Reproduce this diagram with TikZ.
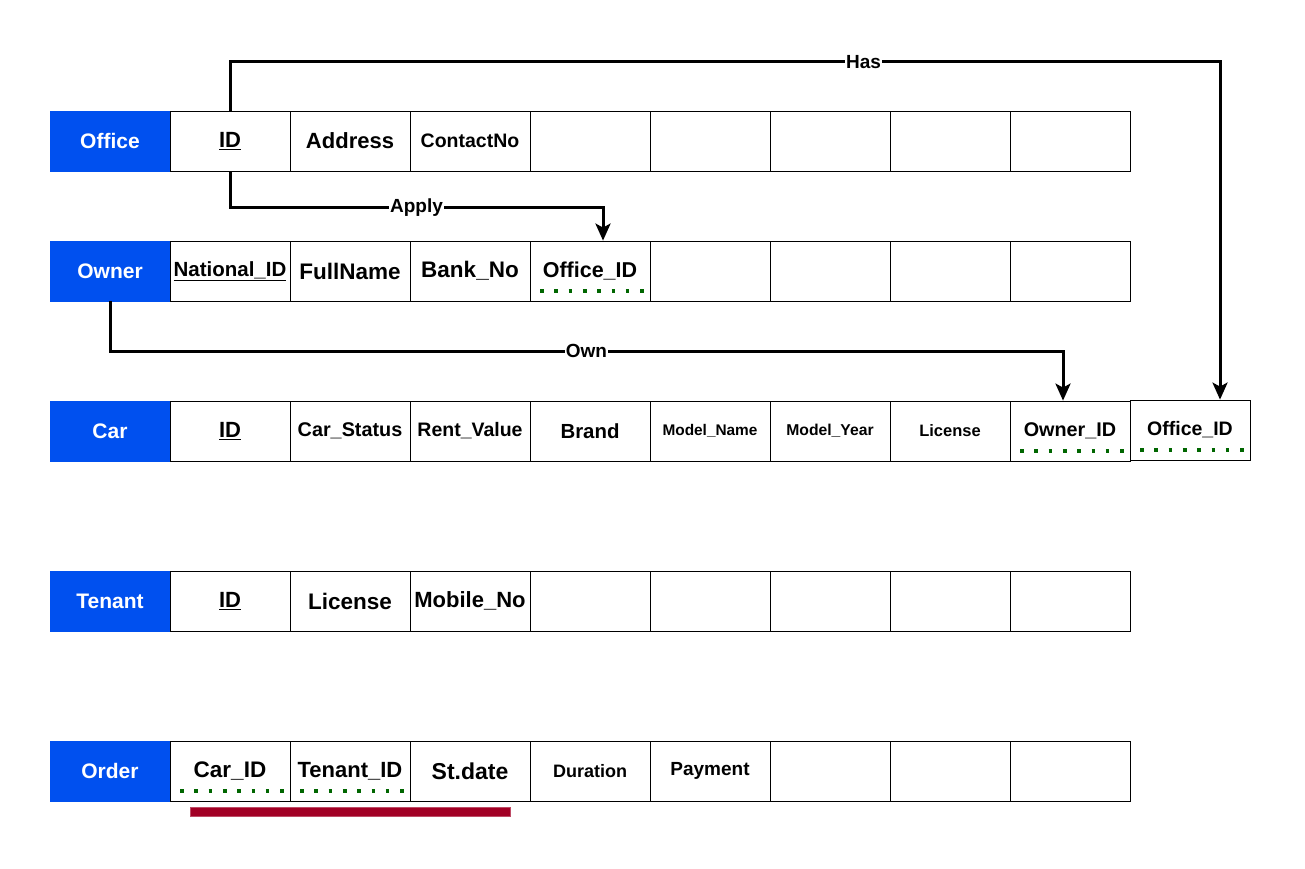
\documentclass[tikz,border=0pt]{standalone}
\usepackage{fontspec}
\setmainfont{Liberation Sans}
\usetikzlibrary{arrows.meta,calc}
\definecolor{hdrblue}{HTML}{0050EF}
\definecolor{fkgreen}{HTML}{006600}
\definecolor{crimson}{HTML}{A20025}
\newcommand\sz[1]{\fontsize{#1}{#1}\selectfont}
\tikzset{
  hdrbox/.style={draw=hdrblue, fill=hdrblue, text=white, minimum width=120pt,
                 minimum height=60pt, inner sep=0pt, font=\bfseries\sz{21}},
  cellbox/.style={draw=black, line width=0.8pt, fill=white, minimum width=120pt,
                  minimum height=60pt, inner sep=0pt, font=\bfseries\sz{20}},
  fkcell/.style={cellbox, path picture={
      \draw[fkgreen, line width=3.6pt, dash pattern=on 3.6pt off 10.7pt]
        ([xshift=10pt,yshift=10pt]path picture bounding box.south west) --
        ([xshift=-6pt,yshift=10pt]path picture bounding box.south east);}},
  relarr/.style={-{Stealth[length=17pt, width=15pt, inset=4pt]}, line width=3pt},
  rellabel/.style={fill=white, inner sep=1pt, font=\bfseries\sz{19}},
  keybar/.style={draw=crimson!70!white, fill=crimson, minimum width=320pt,
                 minimum height=9pt, inner sep=0pt}}

\begin{document}
\begin{tikzpicture}[x=1pt, y=-1pt]
    \useasboundingbox (0,0) rectangle (1305,869);
    % the tables
    \node[hdrbox] (office) at (110,141) {Office};
    \foreach \st/\lab [count=\i] in {cellbox/{\sz{22}\underline{ID}}, cellbox/{\sz{22}Address},
        cellbox/{\sz{19.5}ContactNo}, cellbox/{}, cellbox/{}, cellbox/{}, cellbox/{}, cellbox/{}}
      \node[\st] (office\i) at (110+120*\i,141) {\lab};
    \node[hdrbox] (owner) at (110,271) {Owner};
    \foreach \st/\lab [count=\i] in {cellbox/{\sz{20.5}\underline{National\_ID}}, cellbox/{\sz{22.5}FullName},
        cellbox/{\sz{22.5}Bank\_No}, fkcell/{\sz{21.5}Office\_ID}, cellbox/{}, cellbox/{}, cellbox/{}, cellbox/{}}
      \node[\st] (owner\i) at (110+120*\i,271) {\lab};
    \node[hdrbox] (car) at (110,431) {Car};
    \foreach \st/\lab [count=\i] in {cellbox/{\sz{22}\underline{ID}}, cellbox/{\sz{19.8}Car\_Status},
        cellbox/{\sz{19.5}Rent\_Value}, cellbox/{\sz{20.4}Brand}, cellbox/{\sz{15.4}Model\_Name},
        cellbox/{\sz{15.7}Model\_Year}, cellbox/{\sz{16.5}License}, fkcell/{\sz{19.8}Owner\_ID}}
      \node[\st] (car\i) at (110+120*\i,431) {\lab};
    \node[fkcell] (carx) at (1190,430) {\sz{19.5}Office\_ID};
    \node[hdrbox] (tenant) at (110,601) {Tenant};
    \foreach \st/\lab [count=\i] in {cellbox/{\sz{22}\underline{ID}}, cellbox/{\sz{22.5}License},
        cellbox/{\sz{22}Mobile\_No}, cellbox/{}, cellbox/{}, cellbox/{}, cellbox/{}, cellbox/{}}
      \node[\st] (tenant\i) at (110+120*\i,601) {\lab};
    \node[hdrbox] (order) at (110,771) {Order};
    \foreach \st/\lab [count=\i] in {fkcell/{\sz{22.5}Car\_ID}, fkcell/{\sz{22}Tenant\_ID},
        cellbox/{\sz{23}St.date}, cellbox/{\sz{18}Duration}, cellbox/{\sz{19}Payment},
        cellbox/{}, cellbox/{}, cellbox/{}}
      \node[\st] (order\i) at (110+120*\i,771) {\lab};
    \node[keybar] (orderkey) at (350,811.5) {};
    % the relations
    \draw[relarr] (office1.north) -- ++(0,-49) -| node[rellabel, pos=0.32] {Has}
      ([xshift=30pt]carx.north);
    \draw[relarr] (office1.south) -- ++(0,36) -| node[rellabel, pos=0.25] {Apply}
      ([xshift=13pt]owner4.north);
    \draw[relarr] (owner.south) -- ++(0,50) -| node[rellabel, pos=0.25] {Own}
      ([xshift=-7pt]car8.north);
  \end{tikzpicture}
\end{document}
